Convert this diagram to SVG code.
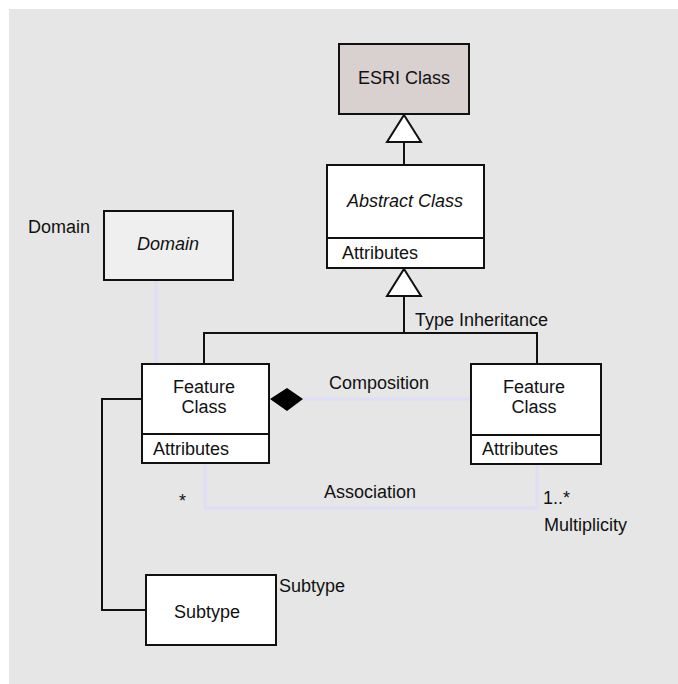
<svg xmlns="http://www.w3.org/2000/svg" width="678" height="684" viewBox="0 0 678 684">
  <style>
    text { font-family: "Liberation Sans", Arial, sans-serif; font-size: 18px; fill: #111; }
    .box { fill: #ffffff; stroke: #111; stroke-width: 2; }
    .wire { fill: none; stroke: #111; stroke-width: 2; }
    .soft { fill: none; stroke: #dedef6; stroke-width: 3; }
    .tri { fill: #ffffff; stroke: #111; stroke-width: 2; stroke-linejoin: miter; }
    .it { font-style: italic; }
    .mid { text-anchor: middle; }
  </style>

  <!-- panel -->
  <rect x="0" y="0" width="678" height="684" fill="#ffffff"/>
  <rect x="9" y="9" width="669" height="675" fill="#e6e6e6"/>

  <g id="connectors">
    <!-- generalisation: abstract class to ESRI class -->
    <line class="wire" x1="404" y1="142" x2="404" y2="165"/>
    <polygon class="tri" points="404,115 421,142 387,142"/>
    <!-- type inheritance tree -->
    <polyline class="wire" points="204,364 204,333 537,333 537,364"/>
    <line class="wire" x1="404" y1="296" x2="404" y2="333"/>
    <polygon class="tri" points="404,269 421,296 387,296"/>
    <!-- domain link -->
    <line class="soft" x1="156" y1="281" x2="156" y2="364" stroke-width="2"/>
    <!-- composition -->
    <line class="soft" x1="303" y1="399" x2="471" y2="399"/>
    <polygon points="270,399 287,388 303,399 287,411" fill="#000"/>
    <!-- association -->
    <polyline class="soft" points="205,464 205,508 537,508 537,465"/>
    <!-- subtype link -->
    <polyline class="wire" points="142,399 102,399 102,610 146,610"/>
  </g>

  <g id="esri-class">
    <rect x="339" y="44" width="130" height="70" fill="#d9d0d0" stroke="#111" stroke-width="2"/>
    <text class="mid" x="404" y="84">ESRI Class</text>
  </g>

  <g id="abstract-class">
    <rect class="box" x="327" y="165" width="157" height="103"/>
    <line class="wire" x1="327" y1="238" x2="484" y2="238"/>
    <text class="mid it" x="405" y="207">Abstract Class</text>
    <text x="342" y="259">Attributes</text>
  </g>

  <g id="domain">
    <rect x="104" y="211" width="129" height="69" fill="#efefef" stroke="#111" stroke-width="2"/>
    <text class="mid it" x="168" y="250" font-size="17">Domain</text>
    <text x="28" y="233" font-size="17">Domain</text>
  </g>

  <g id="feature-class-left">
    <rect class="box" x="142" y="364" width="127" height="99"/>
    <line class="wire" x1="142" y1="434" x2="269" y2="434"/>
    <text class="mid" x="204" y="393" font-size="17">Feature</text>
    <text class="mid" x="204" y="413" font-size="17">Class</text>
    <text x="153" y="455">Attributes</text>
  </g>

  <g id="feature-class-right">
    <rect class="box" x="471" y="364" width="130" height="100"/>
    <line class="wire" x1="471" y1="435" x2="601" y2="435"/>
    <text class="mid" x="534" y="393" font-size="17">Feature</text>
    <text class="mid" x="534" y="413" font-size="17">Class</text>
    <text x="482" y="455">Attributes</text>
  </g>

  <g id="subtype">
    <rect class="box" x="146" y="575" width="130" height="70"/>
    <text class="mid" x="207" y="618">Subtype</text>
    <text x="279" y="592">Subtype</text>
  </g>

  <g id="labels">
    <text x="415" y="326">Type Inheritance</text>
    <text x="329" y="389">Composition</text>
    <text x="324" y="498">Association</text>
    <text x="179" y="507" font-size="10">*</text>
    <text x="543" y="504">1..*</text>
    <text x="544" y="531">Multiplicity</text>
  </g>
</svg>
